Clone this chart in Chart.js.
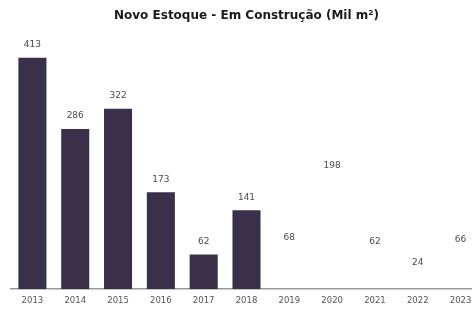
<!DOCTYPE html>
<html>
<head>
<meta charset="utf-8">
<script src="https://cdn.jsdelivr.net/npm/chart.js@4/dist/chart.umd.min.js"></script>
<style>
  html, body { margin: 0; padding: 0; background: #fff; overflow: hidden; }
  #wrap { width: 492px; height: 312px; }
</style>
</head>
<body>
<div id="wrap"><canvas id="estoqueChart"></canvas></div>
<script>
// Chart data
const years = ['2013', '2014', '2015', '2016', '2017', '2018', '2019', '2020', '2021', '2022', '2023'];
const stockValues = [413, 286, 322, 173, 62, 141, 68, 198, 62, 24, 66];
// bars from 2019 on are invisible in the original, only the labels show
const barColors = ['#3b3049', '#3b3049', '#3b3049', '#3b3049', '#3b3049', '#3b3049',
  'rgba(255,255,255,0)', 'rgba(255,255,255,0)', 'rgba(255,255,255,0)',
  'rgba(255,255,255,0)', 'rgba(255,255,255,0)'];

// Value labels above each bar
const valueLabels = {
  id: 'valueLabels',
  afterDatasetsDraw(chart) {
    const ctx = chart.ctx;
    const meta = chart.getDatasetMeta(0);
    ctx.save();
    ctx.font = '9px "DejaVu Sans"';
    ctx.fillStyle = '#4a4a4a';
    ctx.textAlign = 'center';
    ctx.textBaseline = 'middle';
    meta.data.forEach((bar, i) => {
      ctx.fillText(stockValues[i], bar.x, bar.y - 13);
    });
    ctx.restore();
  }
};

const ctx = document.getElementById('estoqueChart');
new Chart(ctx, {
  type: 'bar',
  data: {
    labels: years,
    datasets: [{
      data: stockValues,
      backgroundColor: barColors,
      borderWidth: 0,
      categoryPercentage: 1,
      barPercentage: 0.655
    }]
  },
  options: {
    responsive: true,
    maintainAspectRatio: false,
    animation: false,
    layout: {
      padding: { left: 11, right: 10, top: 4, bottom: 0 }
    },
    plugins: {
      legend: { display: false },
      tooltip: { enabled: false },
      title: {
        display: true,
        text: 'Novo Estoque - Em Construção (Mil m²)',
        color: '#1a1a1a',
        font: { family: 'DejaVu Sans', size: 12, weight: 'bold' },
        padding: { top: 5, bottom: 8 }
      }
    },
    scales: {
      y: {
        display: false,
        beginAtZero: true,
        max: 460
      },
      x: {
        grid: { display: false, drawTicks: false },
        border: { color: '#999', width: 1.5 },
        ticks: {
          color: '#555',
          font: { family: 'DejaVu Sans', size: 8.5, lineHeight: 0.8 },
          padding: 8,
          maxRotation: 0,
          autoSkip: false
        }
      }
    }
  },
  plugins: [valueLabels]
});
</script>
</body>
</html>
